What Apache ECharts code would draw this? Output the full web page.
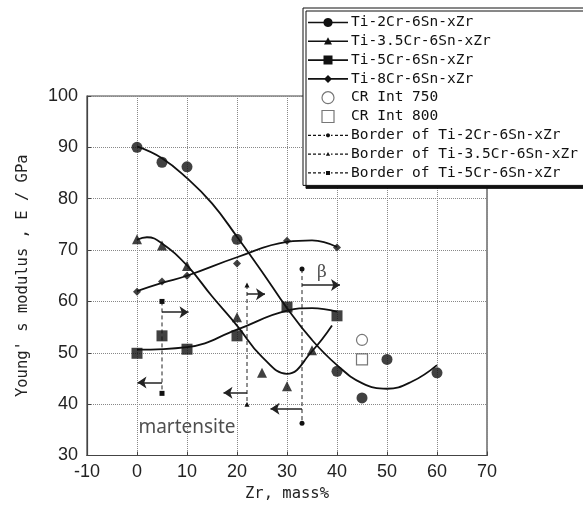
<!DOCTYPE html>
<html><head><meta charset="utf-8">
<script src="https://cdn.jsdelivr.net/npm/echarts/dist/echarts.min.js"></script>
<style>html,body{margin:0;padding:0;background:#fff}#c{width:583px;height:513px}</style>
</head><body><div id="c"></div>
<script>
// ---------- data ----------
const xMin = -10, xMax = 70, xStep = 10;
const yMin = 30, yMax = 100, yStep = 10;

const names = ['Ti-2Cr-6Sn-xZr', 'Ti-3.5Cr-6Sn-xZr', 'Ti-5Cr-6Sn-xZr', 'Ti-8Cr-6Sn-xZr'];

// measured points
const zr2 = [0, 5, 10, 20, 40, 45, 50, 60];
const e2  = [90.0, 87.1, 86.2, 72.1, 46.4, 41.2, 48.7, 46.1];
const zr35 = [0, 5, 10, 20, 25, 30, 35];
const e35  = [72.1, 70.9, 66.9, 56.9, 46.1, 43.5, 50.5];
const zr5 = [0, 5, 10, 20, 30, 40];
const e5  = [49.9, 53.3, 50.7, 53.3, 58.9, 57.2];
const zr8 = [0, 5, 10, 20, 30, 40];
const e8  = [61.9, 63.9, 65.0, 67.4, 71.8, 70.5];

// CR specimens
const cr750 = [45, 52.5];
const cr800 = [45, 48.7];

// fitted curves (traced)
const fit2X = [0, 5, 10, 15, 20, 25, 30, 35, 40, 45, 50, 55, 60];
const fit2E = [90.2, 87.9, 84.0, 79.1, 72.6, 65.8, 58.7, 52.5, 47.6, 44.1, 43.0, 44.4, 47.6];
const fit35X = [0, 2, 5, 10, 15, 20, 25, 30, 35, 39];
const fit35E = [72.0, 72.5, 71.3, 67.0, 61.0, 55.3, 49.2, 45.9, 50.3, 55.3];
const fit5X = [0, 10, 20, 30, 35, 40];
const fit5E = [50.6, 51.1, 54.5, 58.2, 58.7, 58.0];
const fit8X = [0, 5, 10, 20, 30, 35, 40];
const fit8E = [62.0, 63.6, 65.0, 68.6, 71.6, 71.9, 70.6];

// phase borders: x, top E, bottom E
const border2  = [33, 66.3, 36.3];
const border35 = [22, 63.2, 40.0];
const border5  = [5, 60.0, 42.1];
// arrows: [x start, E, x end]
const arrows2  = [[33, 63.2, 40.6], [33, 39.1, 26.7]];
const arrows35 = [[22, 61.4, 25.6], [22, 42.2, 17.3]];
const arrows5  = [[5, 57.9, 10.3], [5, 44.2, 0.1]];

const notes = [['β', 37, 65.6], ['martensite', 10, 35.5]];

// ---------- helpers ----------
const zip = (a, b) => a.map((v, i) => [v, b[i]]);
const INK = '#111';
const monoFont = "'DejaVu Sans Mono', 'Liberation Mono', monospace";
const numFont = "'Liberation Sans', Arial, sans-serif";

// legend icon paths in a 40x12 box
const corners = 'M0 0 L0.05 0 L0 0.05 Z M40 12 L39.95 12 L40 11.95 Z ';
function circ(cx, cy, r) {
  let s = '';
  const n = 20;
  for (let i = 0; i < n; i++) {
    const a = i / n * Math.PI * 2;
    s += (i ? ' L' : 'M') + (cx + r * Math.cos(a)).toFixed(2) + ' ' + (cy + r * Math.sin(a)).toFixed(2);
  }
  return s + ' Z ';
}
function tri(cx, cy, r) { return `M${cx} ${cy - r} L${cx + r} ${cy + r * 0.8} L${cx - r} ${cy + r * 0.8} Z `; }
function sq(cx, cy, r) { return `M${cx - r} ${cy - r} L${cx + r} ${cy - r} L${cx + r} ${cy + r} L${cx - r} ${cy + r} Z `; }
function dia(cx, cy, r) { return `M${cx} ${cy - r} L${cx + r} ${cy} L${cx} ${cy + r} L${cx - r} ${cy} Z `; }
function solidIcon(m) { return 'path://' + corners + 'M0 5.2 L40 5.2 L40 6.8 L0 6.8 Z ' + m; }
function dashIcon(m) {
  let s = corners;
  const segs = [[0, 3], [5, 8], [10, 13], [15.5, 17], [23, 24.5], [27, 30], [32, 35], [37, 40]];
  segs.forEach(([a, b]) => { s += `M${a} 5.4 L${b} 5.4 L${b} 6.6 L${a} 6.6 Z `; });
  return 'path://' + s + m;
}

const curveStyle = { color: INK, width: 1.8 };

const series = [];
const fits = [[fit2X, fit2E], [fit35X, fit35E], [fit5X, fit5E], [fit8X, fit8E]];
fits.forEach((f, i) => {
  series.push({
    type: 'line', name: names[i], data: zip(f[0], f[1]), smooth: 0.45,
    symbol: 'circle', showSymbol: false, color: INK, lineStyle: curveStyle, z: 3, silent: true
  });
});
const pts = [[zr2, e2, 'circle', 11], [zr35, e35, 'triangle', 10], [zr5, e5, 'rect', 11], [zr8, e8, 'diamond', 8]];
pts.forEach((p, i) => {
  series.push({
    type: 'scatter', name: 'pts' + i, data: zip(p[0], p[1]), symbol: p[2], symbolSize: p[3],
    color: INK, z: 4, silent: true
  });
});
series.push({ type: 'scatter', name: 'CR Int 750', data: [cr750], symbol: 'circle', symbolSize: 11,
  itemStyle: { color: '#fff', borderColor: '#555', borderWidth: 1.2 }, z: 4 });
series.push({ type: 'scatter', name: 'CR Int 800', data: [cr800], symbol: 'rect', symbolSize: 11,
  itemStyle: { color: '#fff', borderColor: '#555', borderWidth: 1.2 }, z: 4 });

const borders = [
  ['Border of Ti-2Cr-6Sn-xZr', border2, arrows2, 'circle'],
  ['Border of Ti-3.5Cr-6Sn-xZr', border35, arrows35, 'triangle'],
  ['Border of Ti-5Cr-6Sn-xZr', border5, arrows5, 'rect']
];
borders.forEach(([nm, b, ar, sym]) => {
  series.push({
    type: 'line', name: nm, data: [[b[0], b[1]], [b[0], b[2]]], symbol: sym, symbolSize: 5,
    color: INK, lineStyle: { type: [4, 3], width: 1, color: '#222' }, z: 2, silent: true
  });
  series.push({
    type: 'lines', coordinateSystem: 'cartesian2d', name: nm + ' arrows', silent: true, z: 2,
    symbol: ['none', 'arrow'], symbolSize: 9,
    lineStyle: { type: 'solid', color: '#222', width: 1.5, opacity: 1 },
    data: ar.map(a => ({ coords: [[a[0], a[1]], [a[2], a[1]]] }))
  });
});
series.push({
  type: 'scatter', name: 'notes', data: notes.map(n => ({ value: [n[1], n[2]], label: { formatter: n[0] } })),
  symbolSize: 1, itemStyle: { color: 'transparent' }, silent: true, z: 5,
  label: { show: true, position: 'inside', color: '#222', fontSize: 19,
    fontFamily: "'Noto Sans', 'Open Sans', sans-serif" }
});
series[series.length - 1].data[0].label = { formatter: 'β', fontFamily: "'DejaVu Serif', 'Liberation Serif', serif", fontSize: 17 };

const crStyle = { color: '#fff', borderColor: '#555', borderWidth: 1.2 };
const legendData = [
  { name: names[0], icon: solidIcon(circ(20, 6, 4.6)) },
  { name: names[1], icon: solidIcon(tri(20, 6, 4)) },
  { name: names[2], icon: solidIcon(sq(20, 6, 4.5)) },
  { name: names[3], icon: solidIcon(dia(20, 6, 4)) },
  { name: 'CR Int 750', icon: 'circle', itemStyle: crStyle },
  { name: 'CR Int 800', icon: 'path://M0 0 L10 0 L10 10 L0 10 Z', itemStyle: crStyle },
  { name: 'Border of Ti-2Cr-6Sn-xZr', icon: dashIcon(circ(20, 6, 2)) },
  { name: 'Border of Ti-3.5Cr-6Sn-xZr', icon: dashIcon(tri(20, 6, 2.2)) },
  { name: 'Border of Ti-5Cr-6Sn-xZr', icon: dashIcon(sq(20, 6, 2)) }
];

const axisCommon = {
  type: 'value',
  axisLine: { show: true, onZero: false, lineStyle: { color: '#444', width: 1.2 } },
  axisTick: { show: true, inside: true, length: 4, lineStyle: { color: '#444' } },
  splitLine: { show: true, lineStyle: { type: 'dotted', color: '#888', width: 1 } },
  nameLocation: 'middle',
  nameTextStyle: { fontFamily: monoFont, fontSize: 15.5, color: '#222' }
};

const chart = echarts.init(document.getElementById('c'), null, { renderer: 'canvas' });
chart.setOption({
  animation: false,
  backgroundColor: '#fff',
  grid: { left: 87, right: 96, top: 96, bottom: 57.5, show: true, borderColor: '#444', borderWidth: 1.2, containLabel: false },
  xAxis: Object.assign({}, axisCommon, {
    min: xMin, max: xMax, interval: xStep, name: 'Zr, mass%', nameGap: 30,
    axisLabel: { margin: 8, fontSize: 18, fontFamily: numFont, color: '#222' }
  }),
  yAxis: Object.assign({}, axisCommon, {
    min: yMin, max: yMax, interval: yStep, name: "Young' s modulus , E / GPa", nameGap: 56,
    axisLabel: { margin: 9, fontSize: 18, fontFamily: numFont, color: '#222' }
  }),
  legend: {
    orient: 'vertical', left: 303, top: 8, itemWidth: 40, itemHeight: 12, itemGap: 3.8,
    padding: [7, 14, 5, 5], backgroundColor: '#fff', borderColor: '#111', borderWidth: 1,
    shadowColor: '#111', shadowOffsetX: 3, shadowOffsetY: 3, shadowBlur: 0.5,
    selectedMode: false,
    itemStyle: { borderWidth: 0 },
    textStyle: { fontFamily: monoFont, fontSize: 14.5, color: '#111', padding: [0, 0, 0, -2] },
    data: legendData
  },
  series: series
});
</script></body></html>
